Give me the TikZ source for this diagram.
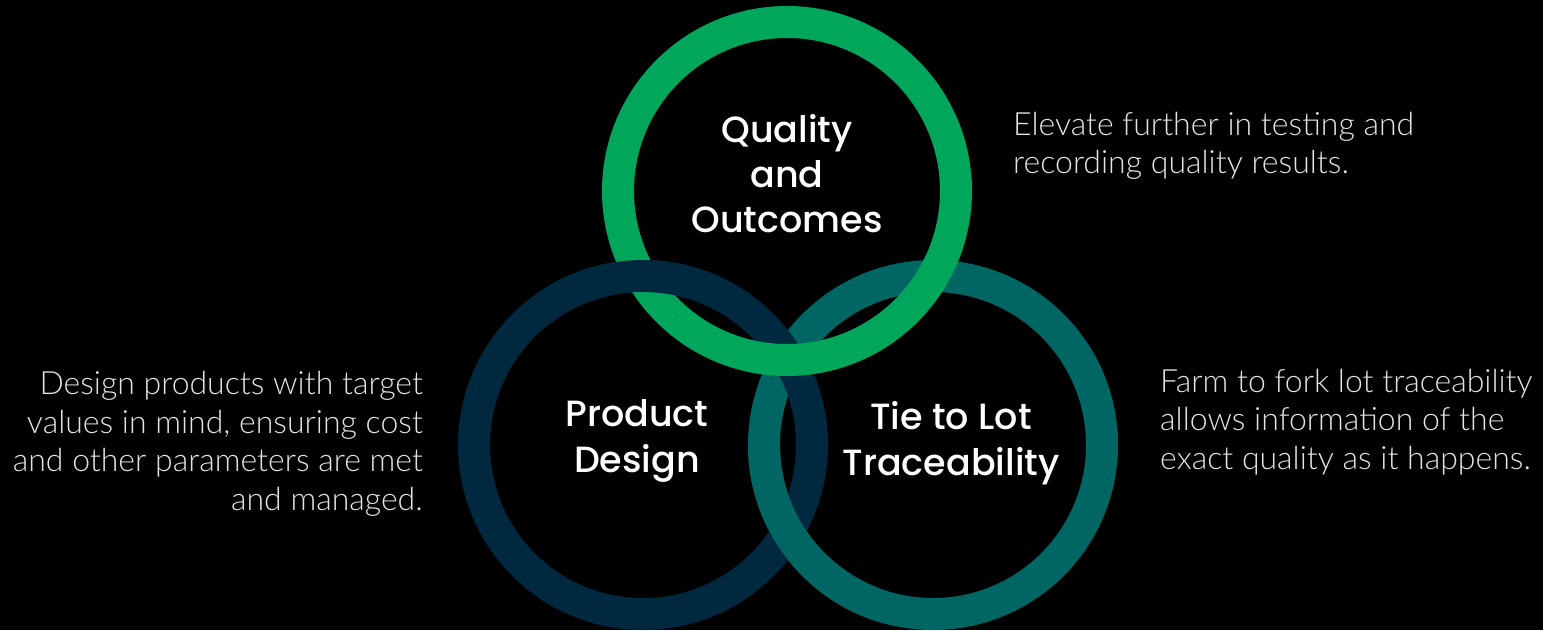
\documentclass[tikz,border=0pt]{standalone}
\usepackage{fontspec}
\newfontfamily\titlefont{Poppins Medium}
\newfontfamily\bodyfont{Lato Light}
\definecolor{ringgreen}{RGB}{0,166,90}
\definecolor{ringnavy}{RGB}{0,41,64}
\definecolor{ringteal}{RGB}{0,102,99}
\definecolor{bodygray}{RGB}{228,228,228}
\begin{document}
\begin{tikzpicture}[x=1pt,y=-1pt,
  ring/.style={line width=32pt},
  title/.style={text=white,align=center,font=\titlefont\fontsize{36.5}{45}\selectfont,inner sep=0pt},
  titleb/.style={title,font=\titlefont\fontsize{36.5}{46}\selectfont},
  body/.style={text=bodygray,font=\bodyfont\fontsize{32}{38.5}\selectfont,inner sep=0pt}]
\fill[black] (0,0) rectangle (1543,630);
\useasboundingbox (0,0) rectangle (1543,630);
\coordinate (cg) at (787,191);
\coordinate (cn) at (643,445);
\coordinate (ct) at (933,445);
% rings
\draw[ring,ringteal] (ct) circle (169pt);
\draw[ring,ringnavy] (cn) circle (169pt);
\draw[ring,ringgreen] (cg) circle (169pt);
\begin{scope}
  \clip (550,200) rectangle (720,330);
  \draw[ring,ringnavy] (cn) circle (169pt);
\end{scope}
\begin{scope}
  \clip (700,450) rectangle (880,630);
  \draw[ring,ringteal] (ct) circle (169pt);
\end{scope}
% titles
\node[title] (tq) at (787,174) {Quality\\and\\Outcomes};
\node[titleb] (tp) at (637,441) {Product\\Design};
\node[titleb] (tt) at (951,443) {Tie to Lot\\Traceability};
% descriptions
\node[body,align=left,anchor=west] (dq) at (1013,146) {Elevate further in testing and\\recording quality results.};
\node[body,align=right,anchor=east] (dp) at (423,444) {Design products with target\\values in mind, ensuring cost\\and other parameters are met\\and managed.};
\node[body,align=left,anchor=west] (dt) at (1160,422) {Farm to fork lot traceability\\allows information of the\\exact quality as it happens.};
\end{tikzpicture}
\end{document}
